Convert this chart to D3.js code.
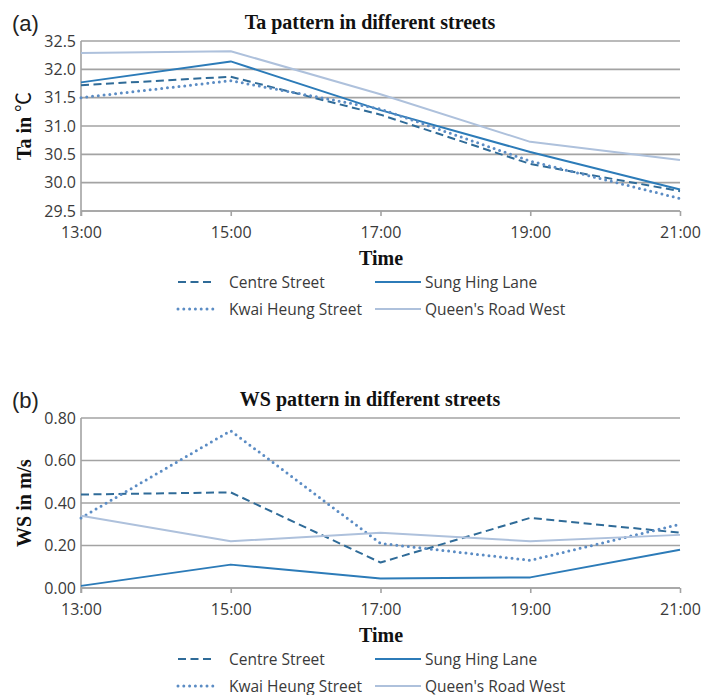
<!DOCTYPE html>
<html>
<head>
<meta charset="utf-8">
<script src="https://cdn.jsdelivr.net/npm/d3@7"></script>
<style>
    body { margin: 0; background: #fff; }
    svg { display: block; }
</style>
</head>
<body>
<div id="chart"></div>
<script>
// category axis
const times = ["13:00", "15:00", "17:00", "19:00", "21:00"];

// series names, in legend order
const streets = ["Centre Street", "Sung Hing Lane", "Kwai Heung Street", "Queen's Road West"];

// (a) air temperature, degC
const taCentre = [31.72, 31.87, 31.20, 30.33, 29.85];
const taSung = [31.77, 32.14, 31.28, 30.54, 29.88];
const taKwai = [31.50, 31.80, 31.30, 30.38, 29.72];
const taQueen = [32.29, 32.32, 31.56, 30.72, 30.40];
const taTicks = [29.5, 30.0, 30.5, 31.0, 31.5, 32.0, 32.5];

// (b) wind speed, m/s
const wsCentre = [0.44, 0.45, 0.12, 0.33, 0.26];
const wsSung = [0.01, 0.11, 0.045, 0.05, 0.18];
const wsKwai = [0.33, 0.74, 0.21, 0.13, 0.30];
const wsQueen = [0.34, 0.22, 0.26, 0.22, 0.25];
const wsTicks = [0.0, 0.2, 0.4, 0.6, 0.8];

const width = 716, height = 695;

//line styles per street
const styles = [
    {color: "#2f6b98", width: 2, dash: "8,4.5", cap: "butt"},
    {color: "#2c7bb8", width: 2, dash: null, cap: "butt"},
    {color: "#5b8cc4", width: 3, dash: "0,5.8", cap: "round"},
    {color: "#aec1dc", width: 2, dash: null, cap: "butt"}
];

const svg = d3.select("#chart").append("svg")
    .attr("width", width)
    .attr("height", height);

const tickFont = "'Open Sans', sans-serif";
const serif = "'Liberation Serif', 'Times New Roman', serif";

function drawChart(cfg) {
    let g = svg.append("g");

    let x = d3.scalePoint()
        .domain(times)
        .range([81, 680]);

    let y = d3.scaleLinear()
        .domain(cfg.domain)
        .range([cfg.bottom, cfg.bottom - 170]);

    //grid lines
    g.selectAll(".grid")
        .data(cfg.ticks)
        .enter()
        .append("line")
        .attr("x1", 81)
        .attr("x2", 680)
        .attr("y1", d => y(d))
        .attr("y2", d => y(d))
        .style("stroke", "#a3a3a3")
        .style("stroke-width", 1.6);

    //left axis line
    g.append("line")
        .attr("x1", 81).attr("x2", 81)
        .attr("y1", y(cfg.domain[1])).attr("y2", cfg.bottom + 5)
        .style("stroke", "#a3a3a3")
        .style("stroke-width", 1.6);

    //bottom axis with ticks
    let xAxis = g.append("g")
        .attr("transform", "translate(0," + cfg.bottom + ")")
        .call(d3.axisBottom(x).tickSize(5).tickPadding(11));
    xAxis.select(".domain")
        .attr("stroke", "#a3a3a3")
        .attr("stroke-width", 1.6)
        .attr("d", "M81,0H680");
    xAxis.selectAll(".tick line")
        .attr("stroke", "#a3a3a3")
        .attr("stroke-width", 1.6);
    xAxis.selectAll(".tick text")
        .attr("fill", "#3a3a3a")
        .style("font-family", tickFont)
        .style("font-size", "16px");

    //y tick labels
    g.selectAll(".ylab")
        .data(cfg.ticks)
        .enter()
        .append("text")
        .attr("x", 76)
        .attr("y", d => y(d) + 5.5)
        .attr("text-anchor", "end")
        .attr("fill", "#3a3a3a")
        .style("font-family", tickFont)
        .style("font-size", "16px")
        .text(d => d.toFixed(cfg.digits));

    //series lines
    let line = d3.line()
        .x((d, i) => x(times[i]))
        .y(d => y(d));

    cfg.series.forEach((s, k) => {
        g.append("path")
            .datum(s)
            .attr("d", line)
            .attr("fill", "none")
            .attr("stroke", styles[k].color)
            .attr("stroke-width", styles[k].width)
            .attr("stroke-dasharray", styles[k].dash)
            .attr("stroke-linecap", styles[k].cap)
            .attr("stroke-linejoin", "round");
    });

    //panel letter
    g.append("text")
        .attr("x", 12)
        .attr("y", cfg.bottom - 180)
        .style("font-family", "'Liberation Sans', Arial, sans-serif")
        .style("font-size", "22px")
        .attr("fill", "#222")
        .text(cfg.letter);

    //title
    g.append("text")
        .attr("x", 370)
        .attr("y", cfg.bottom - 182)
        .attr("text-anchor", "middle")
        .style("font-family", serif)
        .style("font-weight", "bold")
        .style("font-size", "20px")
        .attr("fill", "#111")
        .text(cfg.title);

    //y axis title
    let yt = g.append("text")
        .attr("transform", "translate(31," + (cfg.bottom - 85) + ") rotate(-90)")
        .attr("text-anchor", "middle")
        .style("font-family", serif)
        .style("font-weight", "bold")
        .style("font-size", "20px")
        .attr("fill", "#111");
    yt.append("tspan").text(cfg.ylabel);
    if (cfg.unit) {
        yt.append("tspan")
            .style("font-family", "'Noto Sans CJK SC', sans-serif")
            .style("font-weight", "normal")
            .text(cfg.unit);
    }

    //x axis title
    g.append("text")
        .attr("x", 381)
        .attr("y", cfg.bottom + 54)
        .attr("text-anchor", "middle")
        .style("font-family", serif)
        .style("font-weight", "bold")
        .style("font-size", "20px")
        .attr("fill", "#111")
        .text("Time");

    //legend, 2 x 2
    let legPos = [
        {x: 178, row: 0}, {x: 375, row: 0},
        {x: 178, row: 1}, {x: 375, row: 1}
    ];
    streets.forEach((name, k) => {
        let p = legPos[k];
        let ly = cfg.bottom + 71 + p.row * 27;
        let sw = k % 2 === 0 ? 37 : 46;
        g.append("line")
            .attr("x1", p.x).attr("x2", p.x + sw)
            .attr("y1", ly).attr("y2", ly)
            .attr("stroke", styles[k].color)
            .attr("stroke-width", styles[k].width)
            .attr("stroke-dasharray", styles[k].dash)
            .attr("stroke-linecap", styles[k].cap);
        g.append("text")
            .attr("x", k % 2 === 0 ? p.x + 51 : p.x + 50)
            .attr("y", ly + 5.5)
            .attr("fill", "#3a3a3a")
            .style("font-family", tickFont)
            .style("font-size", "15.5px")
            .text(name);
    });
}

drawChart({
    letter: "(a)",
    title: "Ta pattern in different streets",
    ylabel: "Ta in ",
    unit: "\u2103",
    domain: [29.5, 32.5],
    ticks: taTicks,
    digits: 1,
    bottom: 211,
    series: [taCentre, taSung, taKwai, taQueen]
});

drawChart({
    letter: "(b)",
    title: "WS pattern in different streets",
    ylabel: "WS in m/s",
    unit: null,
    domain: [0, 0.8],
    ticks: wsTicks,
    digits: 2,
    bottom: 588,
    series: [wsCentre, wsSung, wsKwai, wsQueen]
});
</script>
</body>
</html>
